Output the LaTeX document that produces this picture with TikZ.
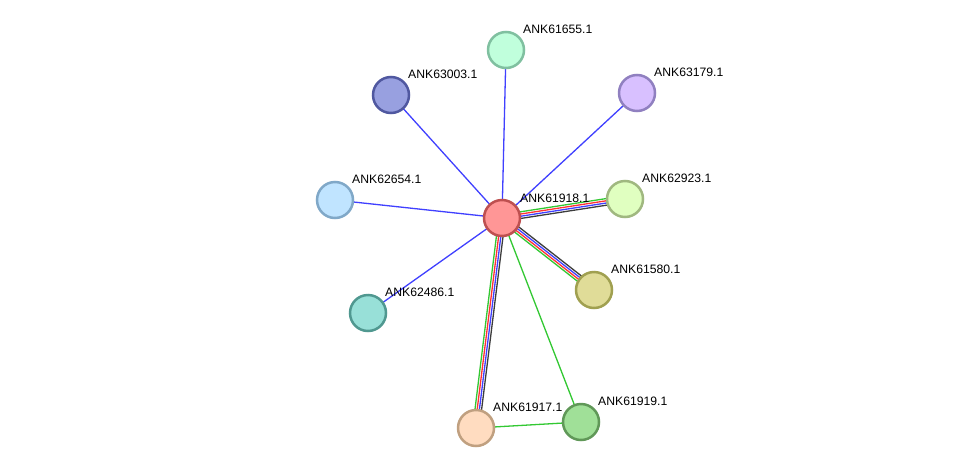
\documentclass[tikz,border=0pt]{standalone}
\usepackage{fontspec}
\setmainfont{Liberation Sans}
\usetikzlibrary{calc}
\definecolor{eblue}{RGB}{64,64,255}
\definecolor{egreen}{RGB}{50,200,50}
\definecolor{ered}{RGB}{255,50,50}
\definecolor{eblack}{RGB}{60,60,60}
\tikzset{
  prot/.style={circle, minimum size=36pt, line width=2.5pt, inner sep=0pt},
  lbl/.style={anchor=west, font=\fontsize{12.2}{14}\selectfont, inner sep=0pt, text=black},
  edge/.style={line width=1.3pt}
}
\newcommand\ledge[4]{\draw[edge,#1] ($(#2)!#4!90:(#3)$) -- ($(#3)!#4!-90:(#2)$);}
\begin{document}
\begin{tikzpicture}[x=1pt,y=-1pt]
\useasboundingbox[fill=white] (0,0) rectangle (976,474);
% node coordinates
\coordinate (c) at (502,218);
\coordinate (n1) at (506,50);
\coordinate (n2) at (391,95);
\coordinate (n3) at (637,93);
\coordinate (n4) at (335,200);
\coordinate (n5) at (625,199);
\coordinate (n6) at (594,290);
\coordinate (n7) at (368,313);
\coordinate (n8) at (476,428);
\coordinate (n9) at (581,422);
% edges
\draw[edge,eblue] (c) -- (n1);
\draw[edge,eblue] (c) -- (n2);
\draw[edge,eblue] (c) -- (n3);
\draw[edge,eblue] (c) -- (n4);
\draw[edge,eblue] (c) -- (n7);
\draw[edge,egreen] (c) -- (n9);
\draw[edge,egreen] (n8) -- (n9);
% multi edges to n5
\ledge{egreen}{c}{n5}{3.3pt}
\ledge{ered}{c}{n5}{1.1pt}
\ledge{eblue}{c}{n5}{-1.1pt}
\ledge{eblack}{c}{n5}{-3.3pt}
% multi edges to n6
\ledge{eblack}{c}{n6}{3.3pt}
\ledge{eblue}{c}{n6}{1.1pt}
\ledge{ered}{c}{n6}{-1.1pt}
\ledge{egreen}{c}{n6}{-3.3pt}
% multi edges to n8
\ledge{eblack}{c}{n8}{3.3pt}
\ledge{eblue}{c}{n8}{1.1pt}
\ledge{ered}{c}{n8}{-1.1pt}
\ledge{egreen}{c}{n8}{-3.3pt}
% nodes
\node[prot, fill={rgb,255:red,255;green,150;blue,150}, draw={rgb,255:red,190;green,80;blue,80}] (C) at (c) {};
\node[prot, fill={rgb,255:red,192;green,255;blue,220}, draw={rgb,255:red,128;green,192;blue,160}] (N1) at (n1) {};
\node[prot, fill={rgb,255:red,152;green,160;blue,224}, draw={rgb,255:red,80;green,88;blue,160}] (N2) at (n2) {};
\node[prot, fill={rgb,255:red,216;green,192;blue,255}, draw={rgb,255:red,144;green,128;blue,192}] (N3) at (n3) {};
\node[prot, fill={rgb,255:red,192;green,228;blue,255}, draw={rgb,255:red,128;green,168;blue,200}] (N4) at (n4) {};
\node[prot, fill={rgb,255:red,224;green,255;blue,192}, draw={rgb,255:red,160;green,184;blue,128}] (N5) at (n5) {};
\node[prot, fill={rgb,255:red,224;green,220;blue,152}, draw={rgb,255:red,160;green,160;blue,80}] (N6) at (n6) {};
\node[prot, fill={rgb,255:red,152;green,224;blue,216}, draw={rgb,255:red,80;green,152;blue,144}] (N7) at (n7) {};
\node[prot, fill={rgb,255:red,255;green,220;blue,192}, draw={rgb,255:red,192;green,160;blue,128}] (N8) at (n8) {};
\node[prot, fill={rgb,255:red,160;green,224;blue,152}, draw={rgb,255:red,96;green,152;blue,88}] (N9) at (n9) {};
% labels
\node[lbl] (L0) at ($(c)+(18,-20)$) {ANK61918.1};
\node[lbl] (L1) at ($(n1)+(17,-21)$) {ANK61655.1};
\node[lbl] (L2) at ($(n2)+(17,-21)$) {ANK63003.1};
\node[lbl] (L3) at ($(n3)+(17,-21)$) {ANK63179.1};
\node[lbl] (L4) at ($(n4)+(17,-21)$) {ANK62654.1};
\node[lbl] (L5) at ($(n5)+(17,-21)$) {ANK62923.1};
\node[lbl] (L6) at ($(n6)+(17,-21)$) {ANK61580.1};
\node[lbl] (L7) at ($(n7)+(17,-21)$) {ANK62486.1};
\node[lbl] (L8) at ($(n8)+(17,-21)$) {ANK61917.1};
\node[lbl] (L9) at ($(n9)+(17,-21)$) {ANK61919.1};
\end{tikzpicture}
\end{document}
